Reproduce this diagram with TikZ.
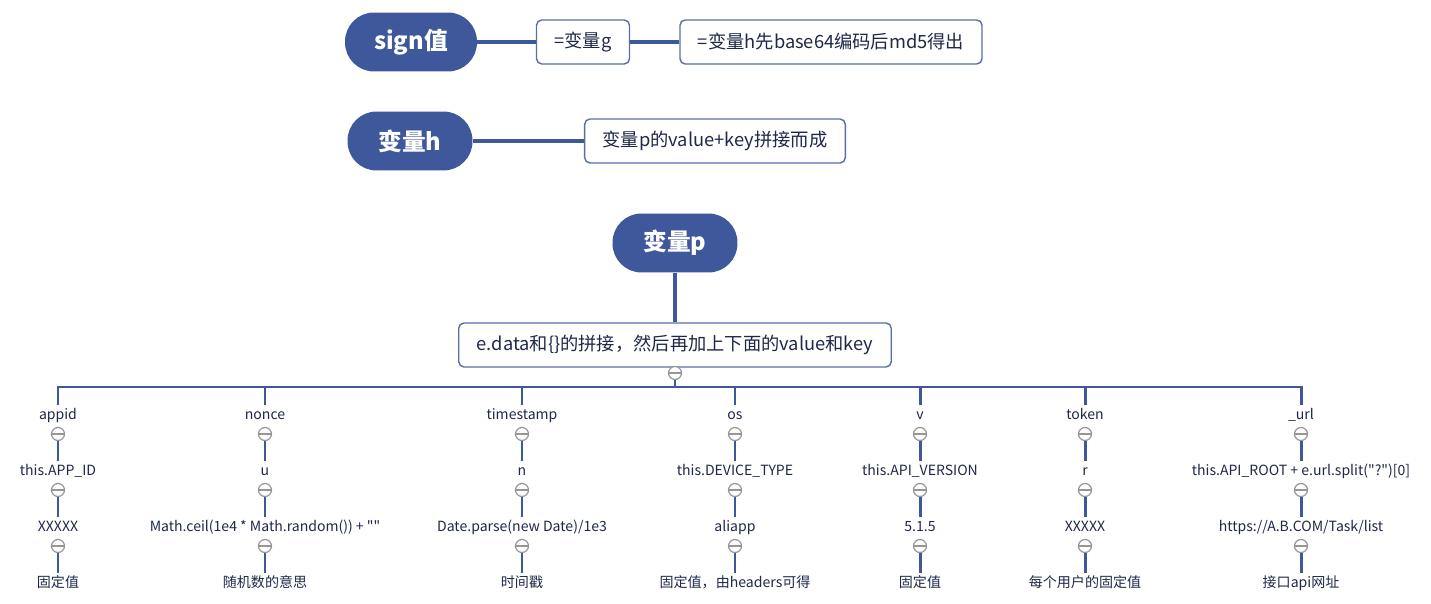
\documentclass[tikz,border=0pt]{standalone}
\usepackage{fontspec}
\newfontfamily\cjk{Noto Sans CJK SC}
\definecolor{mapblue}{RGB}{62,88,155}
\definecolor{edgeblue}{RGB}{90,110,166}
\definecolor{inkblue}{RGB}{32,40,72}
\definecolor{foldgray}{RGB}{150,150,150}
\tikzset{
  topic/.style={fill=mapblue, text=white, font=\cjk\fontsize{13.5}{16}\selectfont\bfseries,
    rounded corners=0.58cm, minimum width=2.5cm, minimum height=1.18cm, inner sep=0pt},
  note/.style={draw=edgeblue, line width=0.8pt, rounded corners=3pt, fill=white, text=inkblue,
    font=\cjk\fontsize{10.4}{12}\selectfont, inner xsep=0.36cm, minimum height=0.88cm},
  leaf/.style={text=inkblue, font=\cjk\fontsize{8}{10}\selectfont, inner sep=1pt,
    text height=7pt, text depth=1.5pt},
  fold/.style={circle, draw=foldgray, fill=white, line width=0.7pt, minimum size=0.26cm, inner sep=0pt,
    path picture={\draw[foldgray, line width=0.7pt] (path picture bounding box.west) -- (path picture bounding box.east);}},
  branch/.style={draw=mapblue, line width=2.2pt},
  twig/.style={draw=mapblue, line width=1.7pt},
}
\begin{document}
\begin{tikzpicture}[x=0.02cm,y=-0.02cm]
\useasboundingbox (0,0) rectangle (1431,604);
% sign
\node[topic, minimum width=2.64cm] (sign) at (411,42) {sign值};
\node[note] (g) at (583,42) {=变量g};
\node[note] (md5) at (831,42) {=变量h先base64编码后md5得出};
\draw[branch] (sign) -- (g);
\draw[branch] (g) -- (md5);
% h
\node[topic] (h) at (410,141) {变量h};
\node[note] (hval) at (715,141) {变量p的value+key拼接而成};
\draw[branch] (h) -- (hval);
% p
\node[topic] (p) at (675,243) {变量p};
\node[note] (pval) at (675,345) {e.data和\{\}的拼接，然后再加上下面的value和key};
\draw[branch] (p) -- (pval);
\node[fold] (f0) at (675,373) {};
\coordinate (bus) at (675,387);
\draw[twig] (f0) -- (bus);
% keys
\foreach \i/\x/\ka/\kb/\kc/\kd in {
  1/58/{appid}/{this.APP\_ID}/{XXXXX}/{固定值},
  2/265/{nonce}/{u}/{Math.ceil(1e4 * Math.random()) + ""}/{随机数的意思},
  3/522/{timestamp}/{n}/{Date.parse(new Date)/1e3}/{时间戳},
  4/735/{os}/{this.DEVICE\_TYPE}/{aliapp}/{固定值，由headers可得},
  5/920/{v}/{this.API\_VERSION}/{5.1.5}/{固定值},
  6/1085/{token}/{r}/{XXXXX}/{每个用户的固定值},
  7/1301/{\_url}/{this.API\_ROOT + e.url.split("?")[0]}/{https://A.B.COM/Task/list}/{接口api网址}}
{
  \node[leaf] (k\i) at (\x,415) {\ka};
  \node[fold] (fa\i) at (\x,434) {};
  \node[leaf] (v\i) at (\x,471) {\kb};
  \node[fold] (fb\i) at (\x,490) {};
  \node[leaf] (w\i) at (\x,527) {\kc};
  \node[fold] (fc\i) at (\x,546) {};
  \node[leaf] (n\i) at (\x,583) {\kd};
  \draw[twig] (bus) -| (k\i);
  \draw[twig] (fa\i) -- (v\i);
  \draw[twig] (fb\i) -- (w\i);
  \draw[twig] (fc\i) -- (n\i);
}
\end{tikzpicture}
\end{document}
